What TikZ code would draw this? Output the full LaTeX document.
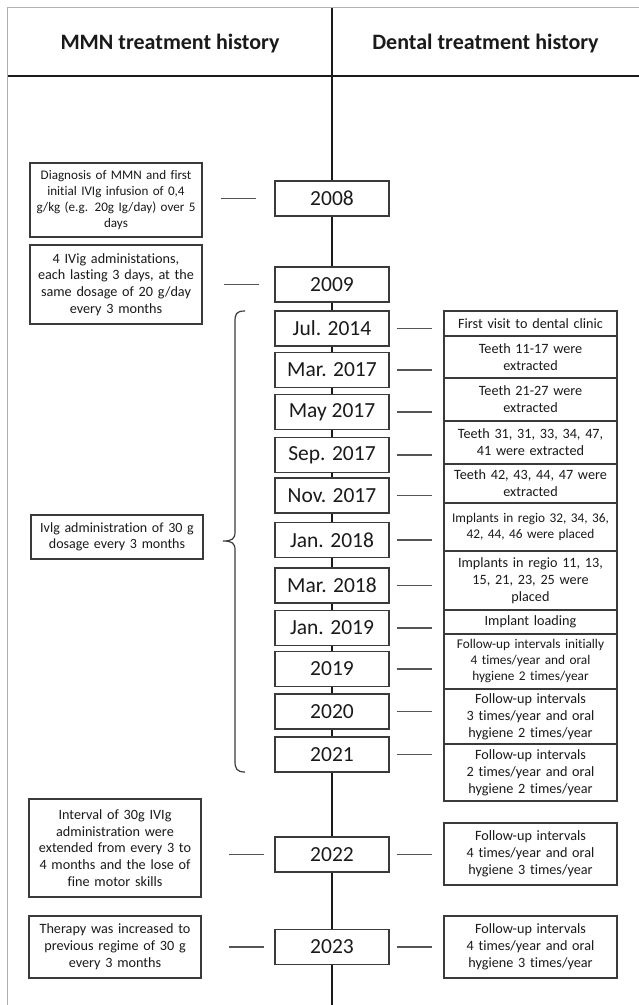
\documentclass[tikz,border=0pt]{standalone}
\usepackage{fontspec}
\setmainfont{Carlito}[Ligatures=NoCommon]
\definecolor{boxc}{HTML}{3A3A3A}
\definecolor{connc}{HTML}{555555}
\definecolor{txt}{HTML}{1A1A1A}
\definecolor{framec}{HTML}{B0B0B0}
\definecolor{linec}{HTML}{1A1A1A}
\tikzset{
  box/.style={draw=boxc, line width=1.25pt, fill=white, align=center, inner sep=0pt, text=txt,
    font=\fontsize{14.2}{16.8}\selectfont},
  lbox/.style={box, minimum width=172pt, text width=172pt},
  rbox/.style={box, minimum width=173pt, text width=173pt},
  datebox/.style={draw=boxc, line width=1.3pt, fill=white, minimum width=114pt, minimum height=35pt,
    inner sep=0pt, text=txt, font=\fontsize{21.5}{24}\selectfont},
  head/.style={text=txt, font=\fontsize{22}{26}\selectfont\bfseries},
  conn/.style={draw=connc, line width=1.2pt},
  rconn/.style={conn, shorten <=7pt, shorten >=11pt},
  bracec/.style={draw=boxc, line width=1.2pt},
}
\begin{document}
\begin{tikzpicture}[x=1pt,y=-1pt]
\useasboundingbox (0,0) rectangle (639,1005);
% frame, header
\coordinate (fbl) at (7.5,1005);
\coordinate (ftl) at (7.5,7.5);
\coordinate (ftr) at (639,7.5);
\draw[framec, line width=1.2pt] (fbl) -- (ftl) -- (ftr);
\coordinate (hl) at (8,76);
\coordinate (hr) at (639,76);
\draw[linec, line width=2.8pt] (hl) -- (hr);
\coordinate (tt) at (332,8);
\coordinate (tb) at (332,1005);
\draw[linec, line width=2.8pt] (tt) -- (tb);
\node[head] (h1) at (170,44) {MMN treatment history};
\node[head] (h2) at (485.5,44) {Dental treatment history};

% date boxes
\node[datebox] (d08) at (332,198.5) {2008};
\node[datebox] (d09) at (332,284.5) {2009};
\node[datebox] (d14) at (332,328.5) {Jul. 2014};
\node[datebox] (d17a) at (332,370) {Mar. 2017};
\node[datebox] (d17b) at (332,412) {May 2017};
\node[datebox] (d17c) at (332,455) {Sep. 2017};
\node[datebox] (d17d) at (332,495.5) {Nov. 2017};
\node[datebox] (d18a) at (332,540) {Jan. 2018};
\node[datebox] (d18b) at (332,585.5) {Mar. 2018};
\node[datebox] (d19a) at (332,628) {Jan. 2019};
\node[datebox] (d19) at (332,669) {2019};
\node[datebox] (d20) at (332,711.5) {2020};
\node[datebox] (d21) at (332,754.5) {2021};
\node[datebox] (d22) at (332,854.5) {2022};
\node[datebox] (d23) at (332,947) {2023};

% left boxes
\node[lbox, minimum height=74pt, font=\fontsize{13.1}{15.7}\selectfont] (l1) at (116,200)
  {Diagnosis of MMN and first\\initial IVIg infusion of 0,4\\g/kg (e.g. 20g Ig/day) over 5\\days};
\node[lbox, minimum height=79pt] (l2) at (116,284.5)
  {4 IVig administations,\\each lasting 3 days, at the\\same dosage of 20 g/day\\every 3 months};
\node[lbox, minimum height=44pt, font=\fontsize{14}{16.4}\selectfont] (l3) at (117,537)
  {Ivlg administration of 30 g\\dosage every 3 months};
\node[lbox, minimum height=98pt, line width=1.5pt] (l4) at (115,848)
  {Interval of 30g IVIg\\administration were\\extended from every 3 to\\4 months and the lose of\\fine motor skills};
\node[lbox, minimum height=62pt] (l5) at (115,947)
  {Therapy was increased to\\previous regime of 30 g\\every 3 months};

% right boxes
\node[rbox, minimum height=25pt] (r1) at (530.5,323.5) {First visit to dental clinic};
\node[rbox, minimum height=42pt] (r2) at (530.5,357) {Teeth 11-17 were\\extracted};
\node[rbox, minimum height=43pt] (r3) at (530.5,399.5) {Teeth 21-27 were\\extracted};
\node[rbox, minimum height=43pt] (r4) at (530.5,442.5) {Teeth 31, 31, 33, 34, 47,\\41 were extracted};
\node[rbox, minimum height=39pt] (r5) at (530.5,483.5) {Teeth 42, 43, 44, 47 were\\extracted};
\node[rbox, minimum height=48pt, font=\fontsize{13.3}{15.4}\selectfont] (r6) at (530.5,527)
  {Implants in regio 32, 34, 36,\\42, 44, 46 were placed};
\node[rbox, minimum height=59pt] (r7) at (530.5,580.5) {Implants in regio 11, 13,\\15, 21, 23, 25 were\\placed};
\node[rbox, minimum height=24pt] (r8) at (530.5,622) {Implant loading};
\node[rbox, minimum height=55pt, font=\fontsize{13.3}{16}\selectfont] (r9) at (530.5,661.5)
  {Follow-up intervals initially\\4 times/year and oral\\hygiene 2 times/year};
\node[rbox, minimum height=55pt] (r10) at (530.5,716.5) {Follow-up intervals\\3 times/year and oral\\hygiene 2 times/year};
\node[rbox, minimum height=57pt] (r11) at (530.5,772.5) {Follow-up intervals\\2 times/year and oral\\hygiene 2 times/year};
\node[rbox, minimum height=62pt] (r12) at (530.5,854) {Follow-up intervals\\4 times/year and oral\\hygiene 3 times/year};
\node[rbox, minimum height=62pt] (r13) at (530.5,947) {Follow-up intervals\\4 times/year and oral\\hygiene 3 times/year};

% left connectors
\draw[conn, shorten <=18pt, shorten >=18pt] (d08.west) -- (d08.west -| l1.east);
\draw[conn, shorten <=15pt, shorten >=21pt] (d09.west) -- (d09.west -| l2.east);
\draw[conn, shorten <=10pt, shorten >=27pt] (d22.west) -- (d22.west -| l4.east);
\draw[conn, shorten <=10pt, shorten >=27pt] (d23.west) -- (d23.west -| l5.east);

% right connectors
\draw[rconn] (d14.east) -- (d14.east -| r1.west);
\draw[rconn] (d17a.east) -- (d17a.east -| r2.west);
\draw[rconn] (d17b.east) -- (d17b.east -| r3.west);
\draw[rconn] (d17c.east) -- (d17c.east -| r4.west);
\draw[rconn] (d17d.east) -- (d17d.east -| r5.west);
\draw[rconn] (d18a.east) -- (d18a.east -| r6.west);
\draw[rconn] (d18b.east) -- (d18b.east -| r7.west);
\draw[rconn] (d19a.east) -- (d19a.east -| r8.west);
\draw[rconn] (d19.east) -- (d19.east -| r9.west);
\draw[rconn] (d20.east) -- (d20.east -| r10.west);
\draw[rconn] (d21.east) -- (d21.east -| r11.west);
\draw[rconn] (d22.east) -- (d22.east -| r12.west);
\draw[rconn] (d23.east) -- (d23.east -| r13.west);

% brace
\coordinate (bt) at (245,311);
\coordinate (btip) at (223,541);
\coordinate (bb) at (245,772);
\draw[bracec] (bt) .. controls (236,311) and (235,314) .. (235,322) -- (235,532)
  .. controls (235,539) and (232,541) .. (btip)
  .. controls (232,541) and (235,543) .. (235,550) -- (235,761)
  .. controls (235,769) and (237,772) .. (bb);
\end{tikzpicture}
\end{document}
